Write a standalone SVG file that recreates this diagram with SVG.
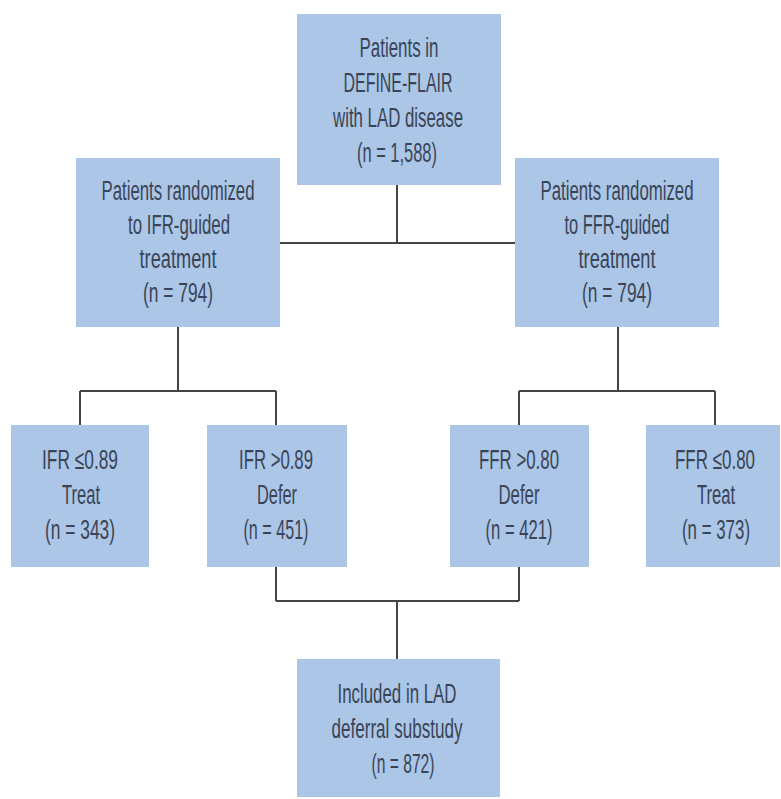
<svg xmlns="http://www.w3.org/2000/svg" width="781" height="799" viewBox="0 0 781 799">
<style>
.box{fill:#abc6e7;}
.t{font-family:"Liberation Sans Narrow","Liberation Sans",Arial,sans-serif;font-size:27px;fill:#3a4456;text-anchor:middle;}
.c{stroke:#444;stroke-width:2;fill:none;}
</style>
<rect width="781" height="799" fill="#ffffff"/>
<g id="connectors">
<path class="c" d="M397,185 V243 M280,243 H515"/>
<path class="c" d="M178,327 V391 M80,391 H276 M80,391 V425 M276,391 V425"/>
<path class="c" d="M618,327 V391 M519,391 H715 M519,391 V425 M715,391 V425"/>
<path class="c" d="M276,567 V601 M519,567 V601 M276,601 H519 M397,601 V659"/>
</g>
<g id="n_top">
<rect class="box" x="297" y="14" width="204" height="171"/>
<text class="t" x="399" y="57" textLength="79" lengthAdjust="spacingAndGlyphs">Patients in</text>
<text class="t" x="398" y="92" textLength="109" lengthAdjust="spacingAndGlyphs">DEFINE-FLAIR</text>
<text class="t" x="398" y="127" textLength="130" lengthAdjust="spacingAndGlyphs">with LAD disease</text>
<text class="t" x="397" y="162" textLength="80" lengthAdjust="spacingAndGlyphs">(n = 1,588)</text>
</g>
<g id="n_ifr">
<rect class="box" x="76" y="158" width="204" height="169"/>
<text class="t" x="178" y="200" textLength="153" lengthAdjust="spacingAndGlyphs">Patients randomized</text>
<text class="t" x="179" y="234" textLength="102" lengthAdjust="spacingAndGlyphs">to IFR-guided</text>
<text class="t" x="178" y="268" textLength="77" lengthAdjust="spacingAndGlyphs">treatment</text>
<text class="t" x="178" y="302" textLength="70" lengthAdjust="spacingAndGlyphs">(n = 794)</text>
</g>
<g id="n_ffr">
<rect class="box" x="515" y="158" width="204" height="169"/>
<text class="t" x="617" y="200" textLength="153" lengthAdjust="spacingAndGlyphs">Patients randomized</text>
<text class="t" x="617" y="234" textLength="105" lengthAdjust="spacingAndGlyphs">to FFR-guided</text>
<text class="t" x="617" y="268" textLength="77" lengthAdjust="spacingAndGlyphs">treatment</text>
<text class="t" x="617" y="302" textLength="70" lengthAdjust="spacingAndGlyphs">(n = 794)</text>
</g>
<g id="n_ifr_treat">
<rect class="box" x="11" y="425" width="138" height="142"/>
<text class="t" x="80" y="469" textLength="76" lengthAdjust="spacingAndGlyphs">IFR ≤0.89</text>
<text class="t" x="81" y="504" textLength="38" lengthAdjust="spacingAndGlyphs">Treat</text>
<text class="t" x="80" y="539" textLength="70" lengthAdjust="spacingAndGlyphs">(n = 343)</text>
</g>
<g id="n_ifr_defer">
<rect class="box" x="207" y="425" width="140" height="142"/>
<text class="t" x="276" y="469" textLength="74" lengthAdjust="spacingAndGlyphs">IFR &gt;0.89</text>
<text class="t" x="277" y="504" textLength="40" lengthAdjust="spacingAndGlyphs">Defer</text>
<text class="t" x="276" y="539" textLength="65" lengthAdjust="spacingAndGlyphs">(n = 451)</text>
</g>
<g id="n_ffr_defer">
<rect class="box" x="450" y="425" width="139" height="142"/>
<text class="t" x="519" y="469" textLength="80" lengthAdjust="spacingAndGlyphs">FFR &gt;0.80</text>
<text class="t" x="519" y="504" textLength="41" lengthAdjust="spacingAndGlyphs">Defer</text>
<text class="t" x="519" y="539" textLength="67" lengthAdjust="spacingAndGlyphs">(n = 421)</text>
</g>
<g id="n_ffr_treat">
<rect class="box" x="646" y="425" width="134" height="142"/>
<text class="t" x="715" y="469" textLength="80" lengthAdjust="spacingAndGlyphs">FFR ≤0.80</text>
<text class="t" x="716" y="504" textLength="38" lengthAdjust="spacingAndGlyphs">Treat</text>
<text class="t" x="716" y="539" textLength="68" lengthAdjust="spacingAndGlyphs">(n = 373)</text>
</g>
<g id="n_included">
<rect class="box" x="297" y="659" width="203" height="138"/>
<text class="t" x="397" y="703" textLength="119" lengthAdjust="spacingAndGlyphs">Included in LAD</text>
<text class="t" x="397" y="738" textLength="131" lengthAdjust="spacingAndGlyphs">deferral substudy</text>
<text class="t" x="403" y="773" textLength="63" lengthAdjust="spacingAndGlyphs">(n = 872)</text>
</g>
</svg>
